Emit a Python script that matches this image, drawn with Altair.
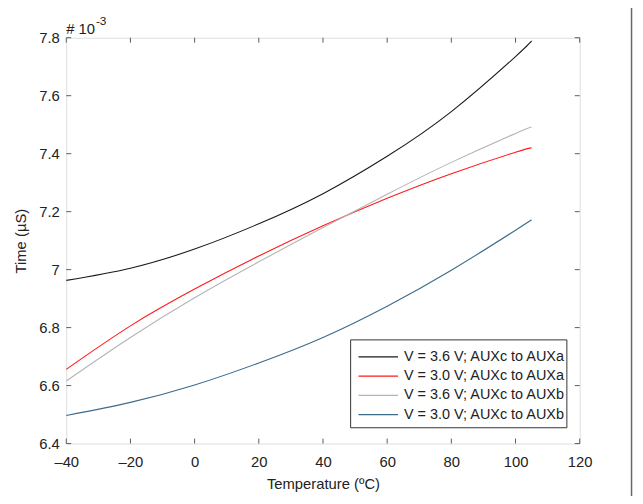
import altair as alt
import pandas as pd

temps = [-40, -20, 0, 20, 40, 60, 80, 100, 105]
v36_a = [6.963, 7.005, 7.071, 7.158, 7.262, 7.391, 7.545, 7.735, 7.789]
v30_a = [6.656, 6.806, 6.933, 7.047, 7.151, 7.246, 7.331, 7.405, 7.420]
v36_b = [6.616, 6.766, 6.903, 7.027, 7.145, 7.260, 7.370, 7.470, 7.492]
v30_b = [6.497, 6.542, 6.602, 6.678, 6.766, 6.874, 6.998, 7.136, 7.172]

series_names = [
    "V = 3.6 V; AUXc to AUXa",
    "V = 3.0 V; AUXc to AUXa",
    "V = 3.6 V; AUXc to AUXb",
    "V = 3.0 V; AUXc to AUXb",
]
series_colors = ["#1a1a1a", "#ff1a1a", "#b4b4b4", "#3b6c8c"]
x_ticks = [-40, -20, 0, 20, 40, 60, 80, 100, 120]
y_ticks = [6.4, 6.6, 6.8, 7.0, 7.2, 7.4, 7.6, 7.8]

rows = []
for name, vals in zip(series_names, [v36_a, v30_a, v36_b, v30_b]):
    for t, v in zip(temps, vals):
        rows.append({"T": t, "time": v, "series": name})
df = pd.DataFrame(rows)
dfx = pd.DataFrame({"T": x_ticks})
dfy = pd.DataFrame({"time": y_ticks})

W, H = 520, 411
FONT = "Liberation Sans"
FRAME = "#5a5a5a"
TXT = "#222222"

xscale = alt.Scale(domain=[-40, 120], nice=False, zero=False)
yscale = alt.Scale(domain=[6.4, 7.8], nice=False, zero=False)

lines = alt.Chart(df).mark_line(strokeWidth=1.1, interpolate="natural").encode(
    x=alt.X("T:Q", scale=xscale,
            axis=alt.Axis(values=x_ticks, title="Temperature (ºC)", domain=False, ticks=False, grid=False,
                          labelExpr="datum.value < 0 ? '–' + abs(datum.value) : '' + datum.value",
                          labelFlush=False, labelOverlap=False,
                          labelFontSize=15, labelPadding=11, labelColor=TXT,
                          titleFontSize=15, titleFontWeight="normal", titleColor=TXT, titlePadding=8,
                          labelFont=FONT, titleFont=FONT)),
    y=alt.Y("time:Q", scale=yscale,
            axis=alt.Axis(values=y_ticks, title="Time (µS)", domain=False, ticks=False, grid=False,
                          labelExpr="format(datum.value, '.1~f')",
                          labelFlush=False, labelOverlap=False,
                          labelFontSize=15, labelPadding=7, labelColor=TXT,
                          titleFontSize=15, titleFontWeight="normal", titleColor=TXT, titlePadding=10,
                          labelFont=FONT, titleFont=FONT)),
    color=alt.Color("series:N", scale=alt.Scale(domain=series_names, range=series_colors), legend=None),
)

tick_len = 5
xt_bot = alt.Chart(dfx).mark_rule(color=FRAME, strokeWidth=1).encode(
    x=alt.X("T:Q", scale=xscale), y=alt.value(H), y2=alt.value(H - tick_len))
xt_top = alt.Chart(dfx).mark_rule(color=FRAME, strokeWidth=1).encode(
    x=alt.X("T:Q", scale=xscale), y=alt.value(0), y2=alt.value(tick_len))
yt_left = alt.Chart(dfy).mark_rule(color=FRAME, strokeWidth=1).encode(
    y=alt.Y("time:Q", scale=yscale), x=alt.value(0), x2=alt.value(tick_len))
yt_right = alt.Chart(dfy).mark_rule(color=FRAME, strokeWidth=1).encode(
    y=alt.Y("time:Q", scale=yscale), x=alt.value(W), x2=alt.value(W - tick_len))

exp_base = alt.Chart(pd.DataFrame({"t": ["# 10"]})).mark_text(
    align="left", baseline="alphabetic", fontSize=15, font=FONT, color=TXT).encode(
    text="t:N", x=alt.value(0), y=alt.value(-4))
exp_sup = alt.Chart(pd.DataFrame({"t": ["-3"]})).mark_text(
    align="left", baseline="alphabetic", fontSize=12, font=FONT, color=TXT).encode(
    text="t:N", x=alt.value(30), y=alt.value(-13))

# legend (drawn as marks inside the plot, lower right)
LX, LY, LW, LH = 288, 306, 219, 89
leg_box = alt.Chart(pd.DataFrame({"a": [0]})).mark_rect(
    fill="white", stroke="#333333", strokeWidth=1).encode(
    x=alt.value(LX), x2=alt.value(LX + LW), y=alt.value(LY), y2=alt.value(LY + LH))
leg_layers = []
for i, (name, col) in enumerate(zip(series_names, series_colors)):
    ry = LY + 17.3 + i * 19.5
    one = pd.DataFrame({"series": [name]})
    leg_layers.append(alt.Chart(one).mark_rule(color=col, strokeWidth=1.3).encode(
        x=alt.value(LX + 8), x2=alt.value(LX + 48), y=alt.value(ry)))
    leg_layers.append(alt.Chart(one).mark_text(
        align="left", baseline="middle", fontSize=14.6, font=FONT, color=TXT).encode(
        text="series:N", x=alt.value(LX + 54), y=alt.value(ry)))

border = alt.Chart(pd.DataFrame({"a": [0]})).mark_rule(color="#666", strokeWidth=1.5).encode(
    x=alt.value(572.5), y=alt.value(-30), y2=alt.value(470))

chart = alt.layer(lines, xt_bot, xt_top, yt_left, yt_right, exp_base, exp_sup, border,
                  leg_box, *leg_layers).properties(
    width=W, height=H,
    autosize=alt.AutoSizeParams(type="none"),
    padding={"left": 59, "top": 27, "right": 56, "bottom": 50},
).configure_view(stroke=FRAME, strokeWidth=1.3).configure(background="white")

chart.save("out.html", embed_options={"renderer": "svg", "actions": False})
